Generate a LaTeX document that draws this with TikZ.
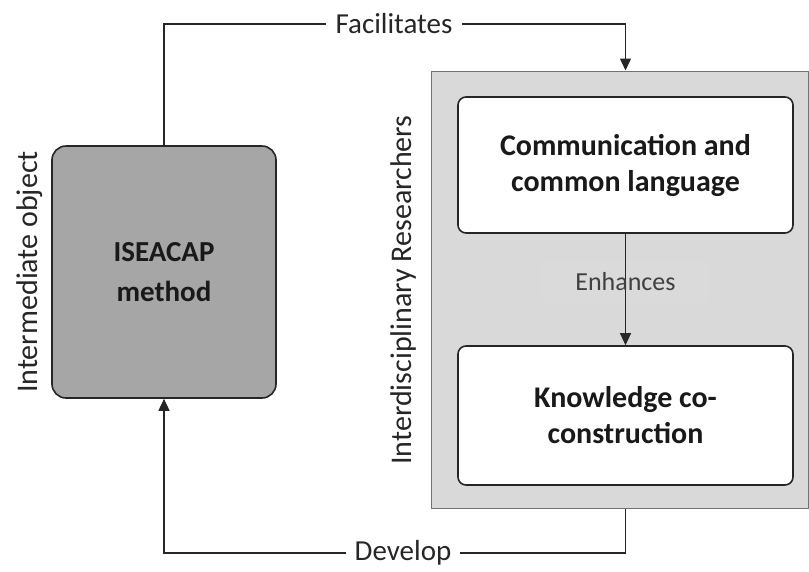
\documentclass[tikz,border=0pt]{standalone}
\usepackage{fontspec}
\setmainfont{Carlito}
\usetikzlibrary{arrows.meta}
\definecolor{outerfill}{HTML}{D9D9D9}
\definecolor{leftfill}{HTML}{A6A6A6}
\definecolor{txtgray}{HTML}{404040}
\begin{document}
\begin{tikzpicture}[x=1pt,y=-1pt,
  conn/.style={line width=1.5pt,draw=black!85},
  tip/.style={-{Triangle[length=12pt,width=11pt]}},
  inbox/.style={draw=black!85,line width=1.6pt,fill=white,rounded corners=8pt,minimum width=335pt,minimum height=136pt,align=center,font=\fontsize{30}{36}\selectfont\bfseries,text=black!90},
  lbl/.style={font=\fontsize{29}{33}\selectfont,text=black!85,inner sep=9pt},
  side/.style={font=\fontsize{30}{34}\selectfont,text=black!85,rotate=90}]
\useasboundingbox (0,0) rectangle (809,571);
% outer gray panel
\node[draw=black!55,line width=1pt,fill=outerfill,minimum width=377pt,minimum height=437pt,inner sep=0pt] (outer) at (619.5,289.5) {};
% inner boxes
\node[inbox] (b1) at (625.5,165) {Communication and\\common language};
\node[inbox,minimum height=139pt] (b2) at (625.5,415.5) {Knowledge co-\\construction};
% left box
\node[draw=black!85,line width=1.6pt,fill=leftfill,rounded corners=14pt,minimum width=224pt,minimum height=252pt,align=center,font=\fontsize{29}{40}\selectfont\bfseries,text=black!90] (L) at (164,272) {ISEACAP\\method};
% side labels
\node[side] (io) at (30,272) {Intermediate object};
\node[side] (ir) at (403,290) {Interdisciplinary Researchers};
% labels
\node[lbl] (fac) at (394,24) {Facilitates};
\node[lbl] (dev) at (403,553) {Develop};
\node[fill=white,fill opacity=0.05,rounded corners=6pt,minimum width=168pt,minimum height=46pt,text opacity=0,font=\fontsize{26}{30}\selectfont] (enh) at (625.5,282) {Enhances};
% connectors
\coordinate (ftop) at (outer.north -| b1.north);
\coordinate (fbot) at (outer.south -| b2.south);
\draw[conn] (L.north) |- (fac.west);
\draw[conn,tip] (fac.east) -| (ftop);
\draw[conn] (fbot) |- (dev.east);
\draw[conn,tip] (dev.west) -| (L.south);
\draw[line width=1pt,draw=black!85,tip] (b1.south) -- (b2.north);
\node[font=\fontsize{26}{30}\selectfont,text=txtgray] (enhtxt) at (enh) {Enhances};
\end{tikzpicture}
\end{document}
